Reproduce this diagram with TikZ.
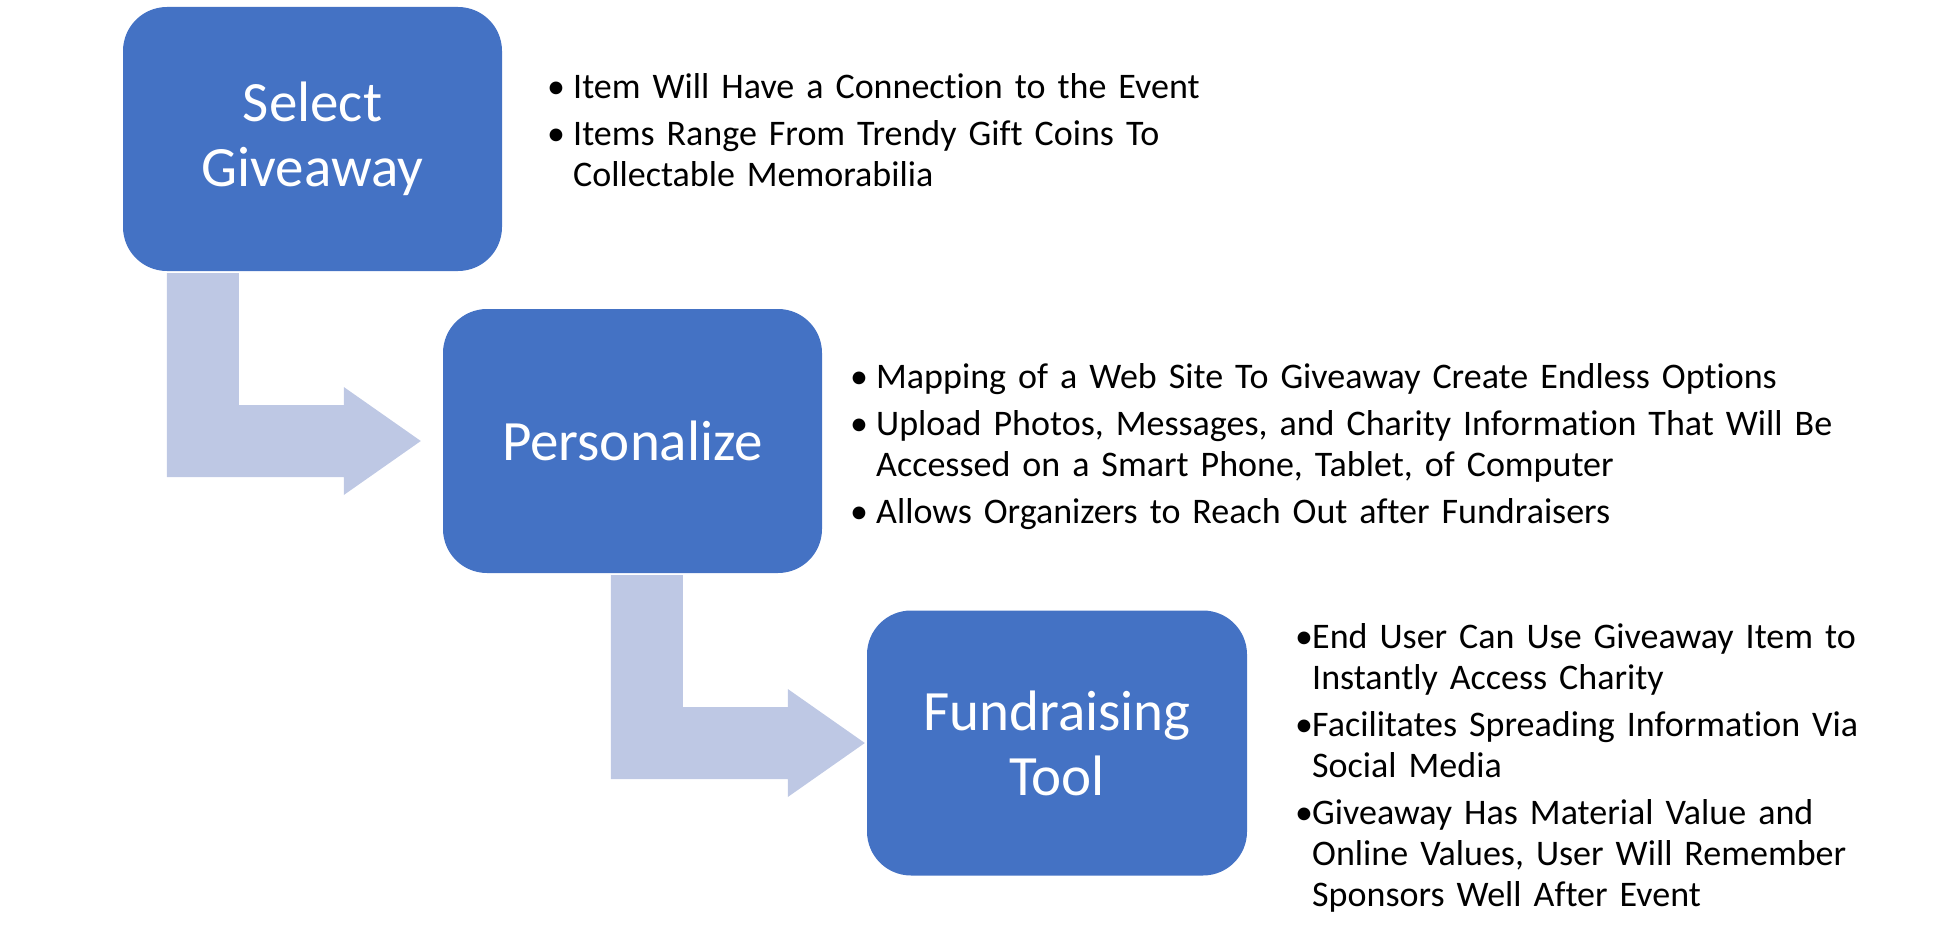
\documentclass[tikz,border=0pt]{standalone}
\usepackage{fontspec}
\setmainfont{Carlito}[Ligatures=NoCommon]
\usetikzlibrary{calc,positioning}
\definecolor{officeblue}{RGB}{68,114,196}
\definecolor{paleblue}{RGB}{190,200,228}
\newlength{\bind}
\newcommand{\bitem}[2][26pt]{%
  \setlength{\bind}{#1}\hangindent=\bind\hangafter=1
  \noindent\makebox[\bind][l]{\textbullet}#2\par}
\tikzset{
  paso/.style={
    rounded corners=44pt,
    fill=officeblue,
    text=white,
    align=center,
    minimum width=379pt,
    minimum height=264pt,
    inner sep=0pt,
    font=\fontsize{57}{65}\selectfont
  },
  lista/.style={
    anchor=base west,
    inner sep=0pt,
    text width=1000pt,
    font=\fontsize{36}{41}\selectfont
  },
  flecha/.style={
    fill=paleblue
  }
}

\begin{document}
\begin{tikzpicture}[x=1pt,y=-1pt]
\useasboundingbox (0,0) rectangle (1952,942);
% pasos
\node[paso] (sel) at (312.5,139) {Select\\Giveaway};
\node[paso] (per) at (632.5,441) {Personalize};
\node[paso, minimum width=380pt, minimum height=265pt] (fun) at (1057,743) {Fundraising\\Tool};
% flechas
\coordinate (t1) at ($(per.west)+(-22,0)$);
\coordinate (t2) at ($(fun.west)+(-2,0)$);
\fill[flecha] ($(sel.south west)+(44,2)$) coordinate (s1) -- ++(72,0)
  |- ($(t1)+(-77,-36)$) -- ++(0,-18) -- (t1) -- ++(-77,54) -- ++(0,-18) -| (s1) -- cycle;
\fill[flecha] ($(per.south west)+(168,2)$) coordinate (s2) -- ++(72,0)
  |- ($(t2)+(-77,-36)$) -- ++(0,-18) -- (t2) -- ++(-77,54) -- ++(0,-18) -| (s2) -- cycle;
% listas
\node[lista] (l1) at (547,99) {%
  \bitem{Item Will Have a Connection to the Event}\vspace{6pt}
  \bitem{Items Range From Trendy Gift Coins To\newline Collectable Memorabilia}};
\node[lista] (l2) at (850,388) {%
  \bitem{Mapping of a Web Site To Giveaway Create Endless Options}\vspace{6pt}
  \bitem{Upload Photos, Messages, and Charity Information That Will Be\newline Accessed on a Smart Phone, Tablet, of Computer}\vspace{6pt}
  \bitem{Allows Organizers to Reach Out after Fundraisers}};
\node[lista] (l3) at (1295,648) {%
  \bitem[17pt]{End User Can Use Giveaway Item to\newline Instantly Access Charity}\vspace{6pt}
  \bitem[17pt]{Facilitates Spreading Information Via\newline Social Media}\vspace{6pt}
  \bitem[17pt]{Giveaway Has Material Value and\newline Online Values, User Will Remember\newline Sponsors Well After Event}};
\end{tikzpicture}
\end{document}
